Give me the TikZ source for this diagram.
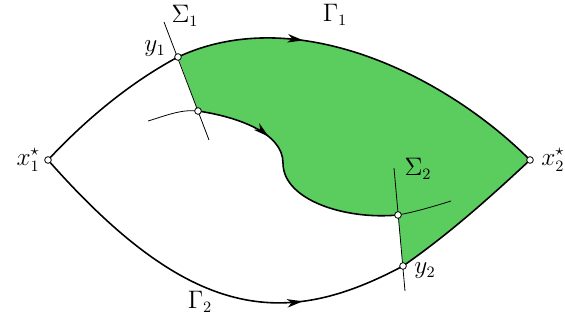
\documentclass[tikz,border=0pt]{standalone}
\usetikzlibrary{arrows.meta,decorations.markings}
\definecolor{regiongreen}{RGB}{91,204,94}
\begin{document}
\begin{tikzpicture}[x=0.02cm,y=-0.02cm,
  curve/.style={line width=0.9pt},
  thinline/.style={line width=0.45pt},
  dot/.style={circle,draw,fill=white,inner sep=0pt,minimum size=3.8pt,line width=0.45pt},
  arrowat/.style={postaction={decorate},decoration={markings,mark=at position #1 with {\arrow{Stealth[length=9pt,width=4.8pt,inset=2.6pt]}}}},
  lab/.style={inner sep=0pt,font=\fontsize{13.5}{16}\selectfont}]
\useasboundingbox (0,0) rectangle (565,320);
% key points
\coordinate (x1) at (48,160);
\coordinate (x2) at (530,160);
\coordinate (y1) at (178,57);
\coordinate (y2) at (403,266);
\coordinate (s1) at (198,111);
\coordinate (s2) at (398,215);
\coordinate (m) at (283,163);
\coordinate (sa) at (164,22);
\coordinate (sb) at (209,140);
\coordinate (ta) at (394,168);
\coordinate (tb) at (405,291);
\coordinate (fa) at (148,121);
\coordinate (fb) at (451,201);
% green region
\fill[regiongreen] (y1) .. controls (296,2) and (445,75) .. (x2)
  .. controls (490,197.4) and (448,234.8) .. (y2) -- (s2)
  .. controls (345,220) and (283,200) .. (m)
  .. controls (283,133) and (238,117) .. (s1) -- cycle;
% trajectories
\draw[curve] (x1) .. controls (85.5,119.8) and (129.6,82.9) .. (y1);
\draw[curve,arrowat=0.33] (y1) .. controls (296,2) and (445,75) .. (x2);
\draw[curve,arrowat=0.74] (x1) .. controls (190.1,321.2) and (284.2,329.5) .. (y2);
\draw[curve] (y2) .. controls (448,234.8) and (490,197.4) .. (x2);
\draw[curve,arrowat=0.31] (s1) .. controls (238,117) and (283,133) .. (m)
  .. controls (283,200) and (345,220) .. (s2);
\draw[thinline] (fa) .. controls (165,116) and (181,109) .. (s1);
\draw[thinline] (s2) .. controls (415,212) and (435,206) .. (fb);
% sections
\draw[thinline] (sa) -- (sb);
\draw[thinline] (ta) -- (tb);
% dots
\node[dot] (x1dot) at (x1) {};
\node[dot] (x2dot) at (x2) {};
\node[dot] (y1dot) at (y1) {};
\node[dot] (y2dot) at (y2) {};
\node[dot] (s1dot) at (s1) {};
\node[dot] (s2dot) at (s2) {};
% labels
\node[lab] (lS1) at (185,16) {$\Sigma_1$};
\node[lab] (lG1) at (335,15) {$\Gamma_1$};
\node[lab] (ly1) at (155,49) {$y_1$};
\node[lab,anchor=east] (lx1) at (40,160) {$x_1^\star$};
\node[lab,anchor=west] (lx2) at (541,160) {$x_2^\star$};
\node[lab] (lS2) at (418,169) {$\Sigma_2$};
\node[lab] (ly2) at (425,271) {$y_2$};
\node[lab] (lG2) at (200,302) {$\Gamma_2$};
\end{tikzpicture}
\end{document}
